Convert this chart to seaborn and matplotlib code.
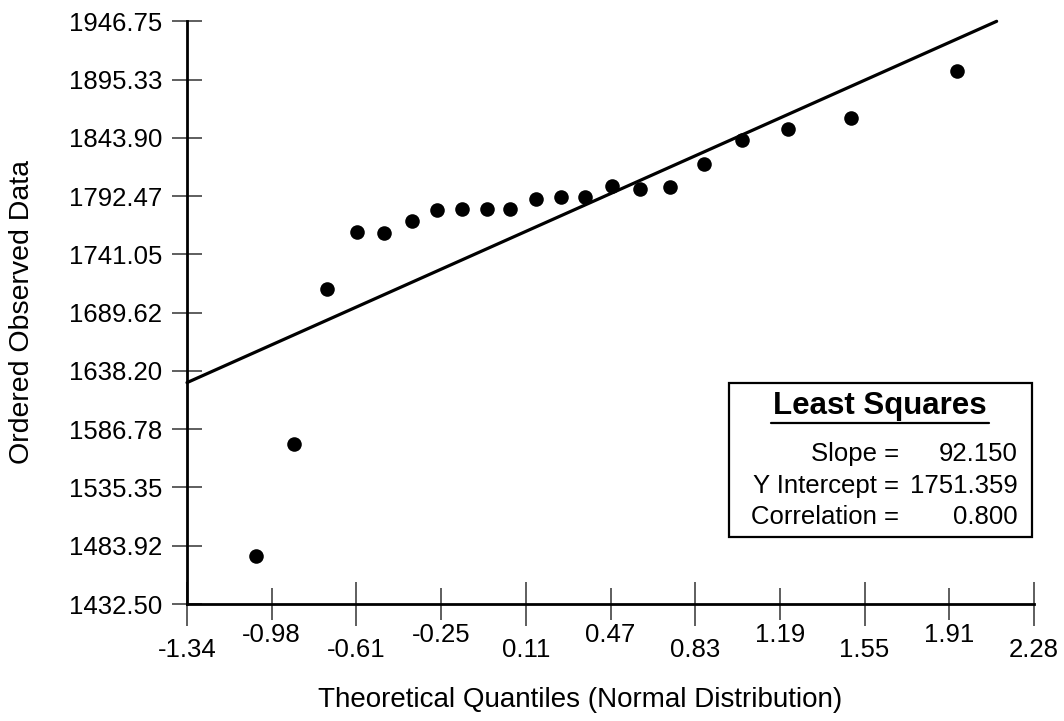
import numpy as np
import pandas as pd
import matplotlib
matplotlib.use("Agg")
import matplotlib.pyplot as plt
from matplotlib.lines import Line2D
from matplotlib.patches import Rectangle
import seaborn as sns

# ---- data ----
theoretical = [-1.045, -0.881, -0.742, -0.615, -0.498, -0.377, -0.272, -0.166,
               -0.059, 0.040, 0.151, 0.257, 0.361, 0.478, 0.597, 0.724,
               0.869, 1.033, 1.230, 1.498, 1.949]
observed = [1475.1, 1573.4, 1710.8, 1760.5, 1759.9, 1770.5, 1780.5, 1781.1,
            1780.8, 1781.1, 1789.9, 1791.4, 1791.7, 1801.8, 1799.0, 1800.5,
            1820.8, 1841.7, 1852.0, 1861.7, 1902.6]
slope = 92.150
intercept = 1751.359
correlation = 0.800
x_tick_labels = ["-1.34", "-0.98", "-0.61", "-0.25", "0.11", "0.47",
                 "0.83", "1.19", "1.55", "1.91", "2.28"]
y_tick_labels = ["1432.50", "1483.92", "1535.35", "1586.78", "1638.20",
                 "1689.62", "1741.05", "1792.47", "1843.90", "1895.33", "1946.75"]

sns.set_style("white")
plt.rcParams['font.family'] = ['Liberation Sans', 'DejaVu Sans']
plt.rcParams['text.color'] = 'black'
plt.rcParams['xtick.color'] = 'black'
plt.rcParams['ytick.color'] = 'black'

W, H = 1064, 721
fig = plt.figure(figsize=(W / 100, H / 100), dpi=100)
ax = fig.add_axes([187 / W, 1 - 604 / H, (1034 - 187) / W, (604 - 21.3) / H])

xmin, xmax = float(x_tick_labels[0]), float(x_tick_labels[-1])
ymin, ymax = float(y_tick_labels[0]), float(y_tick_labels[-1])
ax.set_xlim(xmin, xmax)
ax.set_ylim(ymin, ymax)

df = pd.DataFrame({"q": theoretical, "y": observed})
sns.scatterplot(data=df, x="q", y="y", ax=ax, color="black", s=110,
                edgecolor="black", linewidth=0, zorder=4)

# least-squares line, ending where it reaches the top of the y range
x_end = min(xmax, (ymax - intercept) / slope)
line_df = pd.DataFrame({"q": [xmin, x_end],
                        "y": [intercept + slope * xmin, intercept + slope * x_end]})
sns.lineplot(data=line_df, x="q", y="y", ax=ax, color="black", linewidth=2.3,
             zorder=3, clip_on=False)

# spines
for s in ["top", "right"]:
    ax.spines[s].set_visible(False)
for s in ["left", "bottom"]:
    ax.spines[s].set_linewidth(2.0)
    ax.spines[s].set_color("black")
    ax.spines[s].set_zorder(6)

# y ticks
ypos = np.linspace(ymin, ymax, len(y_tick_labels))
ax.set_yticks(ypos, y_tick_labels)
ax.tick_params(axis="y", which="major", left=True, direction="inout", length=22,
               width=1.1, color="#333333", labelcolor="black", labelsize=18.5, pad=7)

# x ticks: staggered labels (major = lower row, minor = upper row)
xpos = np.linspace(xmin, xmax, len(x_tick_labels))
ax.set_xticks(xpos[0::2], x_tick_labels[0::2])
ax.set_xticks(xpos[1::2], x_tick_labels[1::2], minor=True)
ax.tick_params(axis="x", which="major", bottom=True, direction="inout", length=31,
               width=1.1, color="#333333", labelcolor="black", labelsize=18.5, pad=9)
ax.tick_params(axis="x", which="minor", bottom=True, direction="inout", length=23,
               width=1.1, color="#333333", labelcolor="black", labelsize=18.5, pad=2)

ax.set_xlabel("")
ax.set_ylabel("")
fig.text(580 / W, 1 - 700 / H, "Theoretical Quantiles (Normal Distribution)",
         ha="center", va="center", fontsize=20)
fig.text(22 / W, 1 - 312 / H, "Ordered Observed Data", ha="center", va="center",
         rotation=90, fontsize=20.5)

# Least squares box
box = Rectangle((729 / W, 1 - 537 / H), (1032 - 729) / W, (537 - 383) / H,
                transform=fig.transFigure, fill=False, edgecolor="black",
                linewidth=1.6, zorder=5)
fig.add_artist(box)
fig.text(880 / W, 1 - 406 / H, "Least Squares", ha="center", va="center",
         fontsize=22.5, fontweight="bold")
fig.add_artist(Line2D([771 / W, 989 / W], [1 - 423 / H, 1 - 423 / H],
                      transform=fig.transFigure, color="black", linewidth=1.6))
rows = [("Slope =", f"{slope:.3f}", 454),
        ("Y Intercept =", f"{intercept:.3f}", 486),
        ("Correlation =", f"{correlation:.3f}", 517)]
for lab, val, yy in rows:
    fig.text(899 / W, 1 - yy / H, lab, ha="right", va="center", fontsize=18.5)
    fig.text(1018 / W, 1 - yy / H, val, ha="right", va="center", fontsize=18.5)

fig.savefig("out.png", dpi=100, facecolor="white")
